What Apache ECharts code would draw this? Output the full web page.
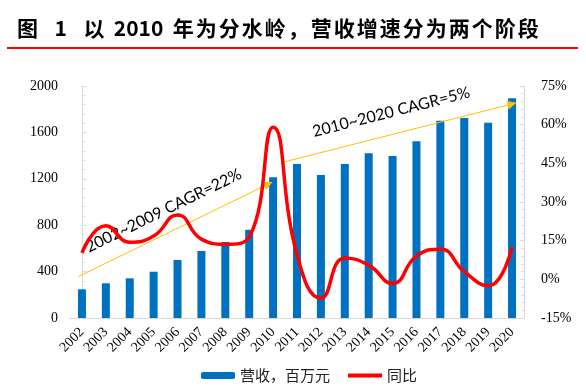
<!DOCTYPE html>
<html><head><meta charset="utf-8">
<script src="https://cdn.jsdelivr.net/npm/echarts@6/dist/echarts.min.js"></script>
<style>html,body{margin:0;padding:0;background:#fff}#c{width:586px;height:390px}</style>
</head><body><div id="c"></div>
<script>
const titleText = '图  1  以 2010 年为分水岭，营收增速分为两个阶段';
const years = ['2002','2003','2004','2005','2006','2007','2008','2009','2010','2011','2012','2013','2014','2015','2016','2017','2018','2019','2020'];
const revenue = [247,299,342,399,500,578,655,761,1213,1328,1233,1328,1420,1397,1523,1701,1724,1684,1894];
const yoy = [10.3,20.8,14.4,16.8,25,15.6,13.6,16.5,59,9.5,-7.3,8.3,5.5,-1.6,9,11.7,3,-2.5,12.5];
const leftTicks = {min:0, max:2000, interval:400};
const rightTicks = {min:-15, max:75, interval:15};
const cagr1 = {label:'2002~2009 CAGR=22%', from:[-0.16,356], to:[7.8,1155]};
const cagr2 = {label:'2010~2020 CAGR=5%', from:[8.34,1339], to:[18.0,1845]};

const chart = echarts.init(document.getElementById('c'));
const serif = '"Liberation Serif","Times New Roman",serif';
function cagrLine(c, dist){
  return [{coord:c.from, label:{show:true, formatter:c.label, position:'insideMiddleTop', distance:dist,
            color:'#000', fontSize:16, fontFamily:'Lato'}},
          {coord:c.to}];
}
const richTitle = titleText.match(/\d+|\s|./g).map(t => /^[\d\s]+$/.test(t) ? '{s|' + t + '}' : '{c|' + t + '}').join('');
const tf = {fontSize:21, fontWeight:'bold', fontFamily:'"Noto Sans CJK SC"', fill:'#000'};
chart.setOption({
  animation:false,
  graphic:[
    {type:'text', left:17, top:18, style:{text:richTitle,
      rich:{c:Object.assign({padding:[0,1.0]}, tf), s:Object.assign({padding:[0,1.2]}, tf)}}},
    {type:'rect', left:7, top:47, shape:{width:571, height:2}, style:{fill:'#ff0000'}}
  ],
  grid:{left:70, right:62, top:86, bottom:72},
  legend:{bottom:2, left:196, itemGap:16, itemWidth:34, itemHeight:7,
    textStyle:{fontSize:15, color:'#222', fontFamily:'"Noto Sans CJK SC"'},
    data:[{name:'营收，百万元'},
          {name:'同比', itemStyle:{opacity:0, borderWidth:0}, lineStyle:{width:4, color:'#ff0000'}}]},
  xAxis:[
    {type:'category', data:years, axisTick:{show:false},
      axisLine:{lineStyle:{color:'#d9d9d9'}},
      axisLabel:{rotate:45, interval:0, color:'#000', fontSize:14, fontFamily:serif, margin:12}},
    {type:'value', min:-0.5, max:18.5, show:false}
  ],
  yAxis:[
    {type:'value', min:leftTicks.min, max:leftTicks.max, interval:leftTicks.interval,
      splitLine:{show:false},
      axisLine:{show:true, lineStyle:{color:'#d9d9d9'}},
      axisTick:{show:true, inside:true, length:5, lineStyle:{color:'#d9d9d9'}},
      minorTick:{show:true, splitNumber:5, length:4, lineStyle:{color:'#e0e0e0'}},
      axisLabel:{color:'#000', fontSize:14, fontFamily:serif, margin:12, formatter:v => String(v)}},
    {type:'value', min:rightTicks.min, max:rightTicks.max, interval:rightTicks.interval,
      splitLine:{show:false},
      axisLine:{show:true, lineStyle:{color:'#d9d9d9'}},
      axisTick:{show:true, inside:true, length:4, lineStyle:{color:'#d9d9d9'}},
      minorTick:{show:true, splitNumber:5, length:3, lineStyle:{color:'#e0e0e0'}},
      axisLabel:{color:'#000', fontSize:14, fontFamily:serif, margin:17, formatter:'{value}%'}}
  ],
  series:[
    {name:'营收，百万元', type:'bar', data:revenue, barWidth:8,
      itemStyle:{color:'#0070C0'}},
    {name:'同比', type:'line', yAxisIndex:1, data:yoy, smooth:0.5, symbol:'none', showSymbol:false,
      lineStyle:{color:'#ff0000', width:3.5}, itemStyle:{color:'#ff0000'}, z:5},
    {name:'cagr', type:'line', xAxisIndex:1, yAxisIndex:0, data:[], z:6,
      markLine:{silent:true, symbol:['none','triangle'], symbolSize:[9,9],
        lineStyle:{color:'#FFC000', width:1, type:'solid'},
        data:[cagrLine(cagr1,14), cagrLine(cagr2,14)]}}
  ]
});
</script></body></html>
